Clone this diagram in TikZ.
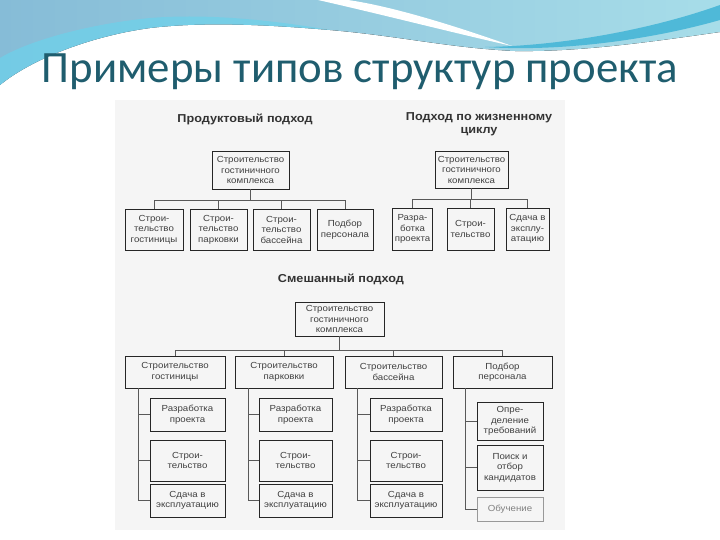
\documentclass[tikz,border=0pt]{standalone}
\usepackage{fontspec}
\setmainfont{Liberation Sans}
\newfontfamily\titlefont{Carlito}
\newfontfamily\scanfont[FakeStretch=1.1]{Liberation Sans}
\newfontfamily\headfont[FakeStretch=1.1]{Liberation Sans Bold}
\usepackage{graphicx}
\definecolor{titlec}{HTML}{1F5D6E}
\definecolor{bluetl}{HTML}{86BCD7}
\definecolor{bluetr}{HTML}{A7DDE9}
\definecolor{cyanb}{HTML}{6CD2EB}
\definecolor{swooshc}{HTML}{4FB9D8}
\definecolor{scanbg}{HTML}{F5F5F5}
\tikzset{
  bx/.style={draw=black!85, line width=0.8pt, inner sep=0pt, align=center,
    text=black!75, font=\scanfont\fontsize{8.8}{10.5}\selectfont},
  ln/.style={draw=black!65, line width=0.6pt},
  hd/.style={font=\headfont\fontsize{11.5}{13}\selectfont, text=black!80, align=center}
}
\begin{document}
\begin{tikzpicture}[x=1pt,y=-1pt]
\useasboundingbox (0,0) rectangle (720,540);
\fill[white] (0,0) rectangle (720,540);
% top decoration
\fill[left color=bluetl, right color=bluetr] (0,0) -- (720,0) -- (720,32)
  .. controls (650,42) and (580,52) .. (515,51)
  .. controls (450,48) and (400,36) .. (330,30)
  .. controls (260,24) and (200,22) .. (150,28)
  .. controls (90,36) and (30,60) .. (0,85) -- cycle;
\fill[cyanb, opacity=0.7] (0,85) .. controls (30,60) and (90,36) .. (150,28)
  .. controls (200,22) and (260,24) .. (330,30)
  .. controls (260,18) and (200,14) .. (150,18)
  .. controls (90,24) and (30,40) .. (0,58) -- cycle;
\fill[white] (318,0) .. controls (380,14) and (450,32) .. (512,46)
  .. controls (450,24) and (390,6) .. (348,0) -- cycle;
\fill[swooshc] (485,47) .. controls (560,46) and (650,30) .. (720,5)
  -- (720,20) .. controls (650,40) and (560,52) .. (485,47) -- cycle;
% title
\node[font=\titlefont, text=titlec, anchor=base, inner sep=0pt] (title) at (360,83)
  {\resizebox{636pt}{!}{Примеры типов структур проекта}};
% scan background
\fill[scanbg] (115,100) rectangle (565,530);
% headings
\node[hd] (hP) at (245,119) {Продуктовый подход};
\node[hd] (hL) at (479,124.5) {Подход по жизненному\\циклу};
\node[hd] (hM) at (341,279) {Смешанный подход};
% product approach
\node[bx, minimum width=77pt, minimum height=38pt] (P0) at (250.5,170) {Строительство\\гостиничного\\комплекса};
\node[bx, minimum width=58pt, minimum height=41pt] (P1) at (154,229.5) {Строи-\\тельство\\гостиницы};
\node[bx, minimum width=57pt, minimum height=41pt] (P2) at (218.5,229.5) {Строи-\\тельство\\парковки};
\node[bx, minimum width=57pt, minimum height=41pt] (P3) at (281.5,229.5) {Строи-\\тельство\\бассейна};
\node[bx, minimum width=56pt, minimum height=41pt] (P4) at (345,229.5) {Подбор\\персонала};
\coordinate (Pb) at (250.5,200);
\draw[ln] (P0.south) -- (Pb);
\foreach \n in {P1,P2,P3,P4} \draw[ln] (\n.north) |- (Pb);
% life cycle approach
\node[bx, minimum width=73pt, minimum height=37pt] (L0) at (471.5,169.5) {Строительство\\гостиничного\\комплекса};
\node[bx, minimum width=40pt, minimum height=42pt] (L1) at (412.5,229) {Разра-\\ботка\\проекта};
\node[bx, minimum width=47pt, minimum height=42pt] (L2) at (470.5,229) {Строи-\\тельство};
\node[bx, minimum width=43pt, minimum height=42pt] (L3) at (527.5,229) {Сдача в\\эксплу-\\атацию};
\coordinate (Lb) at (471.5,199);
\draw[ln] (L0.south) -- (Lb);
\foreach \n in {L1,L2,L3} \draw[ln] (\n.north) |- (Lb);
% mixed approach
\node[bx, minimum width=89pt, minimum height=34pt] (M0) at (339.5,319) {Строительство\\гостиничного\\комплекса};
\node[bx, minimum width=100pt, minimum height=32pt] (M1) at (175,372) {Строительство\\гостиницы};
\node[bx, minimum width=98pt, minimum height=32pt] (M2) at (284,372) {Строительство\\парковки};
\node[bx, minimum width=97pt, minimum height=32pt] (M3) at (393.5,372) {Строительство\\бассейна};
\node[bx, minimum width=99pt, minimum height=32pt] (M4) at (502.5,372) {Подбор\\персонала};
\coordinate (Mb) at (339.5,350);
\draw[ln] (M0.south) -- (Mb);
\foreach \n in {M1,M2,M3,M4} \draw[ln] (\n.north) |- (Mb);
% sub boxes groups 1-3
\foreach \g/\cx/\w/\sx in {1/187.5/75/138, 2/295.5/73/248, 3/406/72/357} {
  \node[bx, minimum width=\w pt, minimum height=33pt] (S\g1) at (\cx,414.5) {Разработка\\проекта};
  \node[bx, minimum width=\w pt, minimum height=41pt] (S\g2) at (\cx,460.5) {Строи-\\тельство};
  \node[bx, minimum width=\w pt, minimum height=33pt] (S\g3) at (\cx,500.5) {Сдача в\\эксплуатацию};
  \coordinate (sp\g) at (\sx,388);
  \draw[ln] (sp\g) |- (S\g3.west);
  \draw[ln] (S\g1.west) -- (S\g1.west -| sp\g);
  \draw[ln] (S\g2.west) -- (S\g2.west -| sp\g);
}
% group 4
\node[bx, minimum width=66pt, minimum height=38pt] (S41) at (510,421) {Опре-\\деление\\требований};
\node[bx, minimum width=66pt, minimum height=45pt] (S42) at (510,467.5) {Поиск и\\отбор\\кандидатов};
\node[bx, draw=black!40, text=black!50, minimum width=66pt, minimum height=24pt] (S43) at (510,509) {Обучение};
\coordinate (sp4) at (465,388);
\draw[ln] (sp4) |- (S43.west);
\draw[ln] (S41.west) -- (S41.west -| sp4);
\draw[ln] (S42.west) -- (S42.west -| sp4);
\end{tikzpicture}
\end{document}
